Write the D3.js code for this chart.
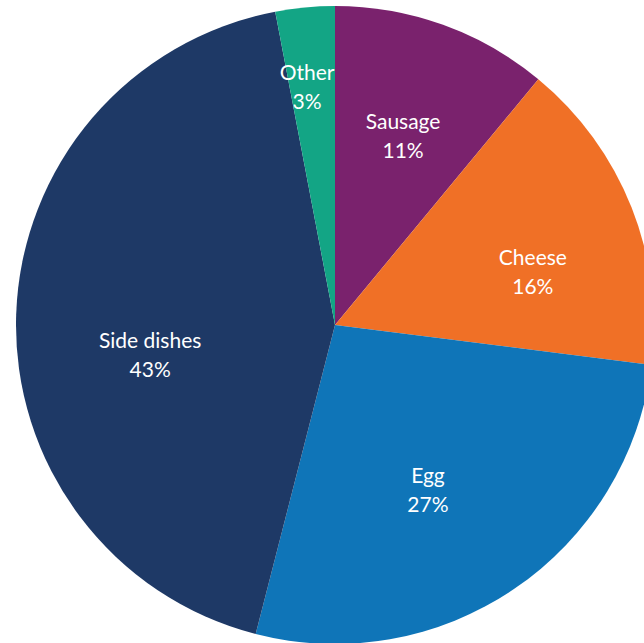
<!DOCTYPE html>
<html>
<head>
<meta charset="utf-8">
<script src="https://cdn.jsdelivr.net/npm/d3@7"></script>
<style>
  html, body { margin: 0; padding: 0; background: #ffffff; }
  svg { display: block; }
</style>
</head>
<body>
<svg id="chart" width="644" height="643"></svg>
<script>
// Share of each category, clockwise from 12 o'clock
const categories = ["Sausage", "Cheese", "Egg", "Side dishes", "Other"];
const shares = [11, 16, 27, 43, 3];
const percentLabels = ["11%", "16%", "27%", "43%", "3%"];
const sliceColors = ["#7A226D", "#F07026", "#0F75B8", "#1E3966", "#13A585"];

const width = 644, height = 643;
const cx = 335, cy = 325, radius = 319;

const data = categories.map((c, i) => ({ name: c, value: shares[i], label: percentLabels[i] }));

const color = d3.scaleOrdinal().domain(categories).range(sliceColors);

const pie = d3.pie().value(d => d.value).sort(null);
const arcs = pie(data);

const arc = d3.arc().innerRadius(0).outerRadius(radius);
const labelArc = d3.arc().innerRadius(radius * 0.63).outerRadius(radius * 0.63);

// Best-fit style offsets for the label boxes
const labelShift = {
  "Sausage": [0, 0],
  "Cheese": [11, 20],
  "Egg": [-20, -2],
  "Side dishes": [16, 36],
  "Other": [-9, -38]
};

const svg = d3.select("#chart");
const g = svg.append("g").attr("transform", `translate(${cx},${cy})`);

g.selectAll("path.slice")
  .data(arcs)
  .join("path")
  .attr("class", "slice")
  .attr("d", arc)
  .attr("fill", d => color(d.data.name));

const labels = g.selectAll("text.lbl")
  .data(arcs)
  .join("text")
  .attr("class", "lbl")
  .attr("text-anchor", "middle")
  .attr("fill", "#ffffff")
  .style("font-family", "Lato, 'Open Sans', sans-serif")
  .style("font-size", "21px")
  .attr("transform", d => {
    const [x, y] = labelArc.centroid(d);
    const s = labelShift[d.data.name] || [0, 0];
    return `translate(${x + s[0]},${y + s[1]})`;
  });

labels.append("tspan").attr("x", 0).attr("y", -6.5).text(d => d.data.name);
labels.append("tspan").attr("x", 0).attr("y", 22.5).text(d => d.data.label);
</script>
</body>
</html>
